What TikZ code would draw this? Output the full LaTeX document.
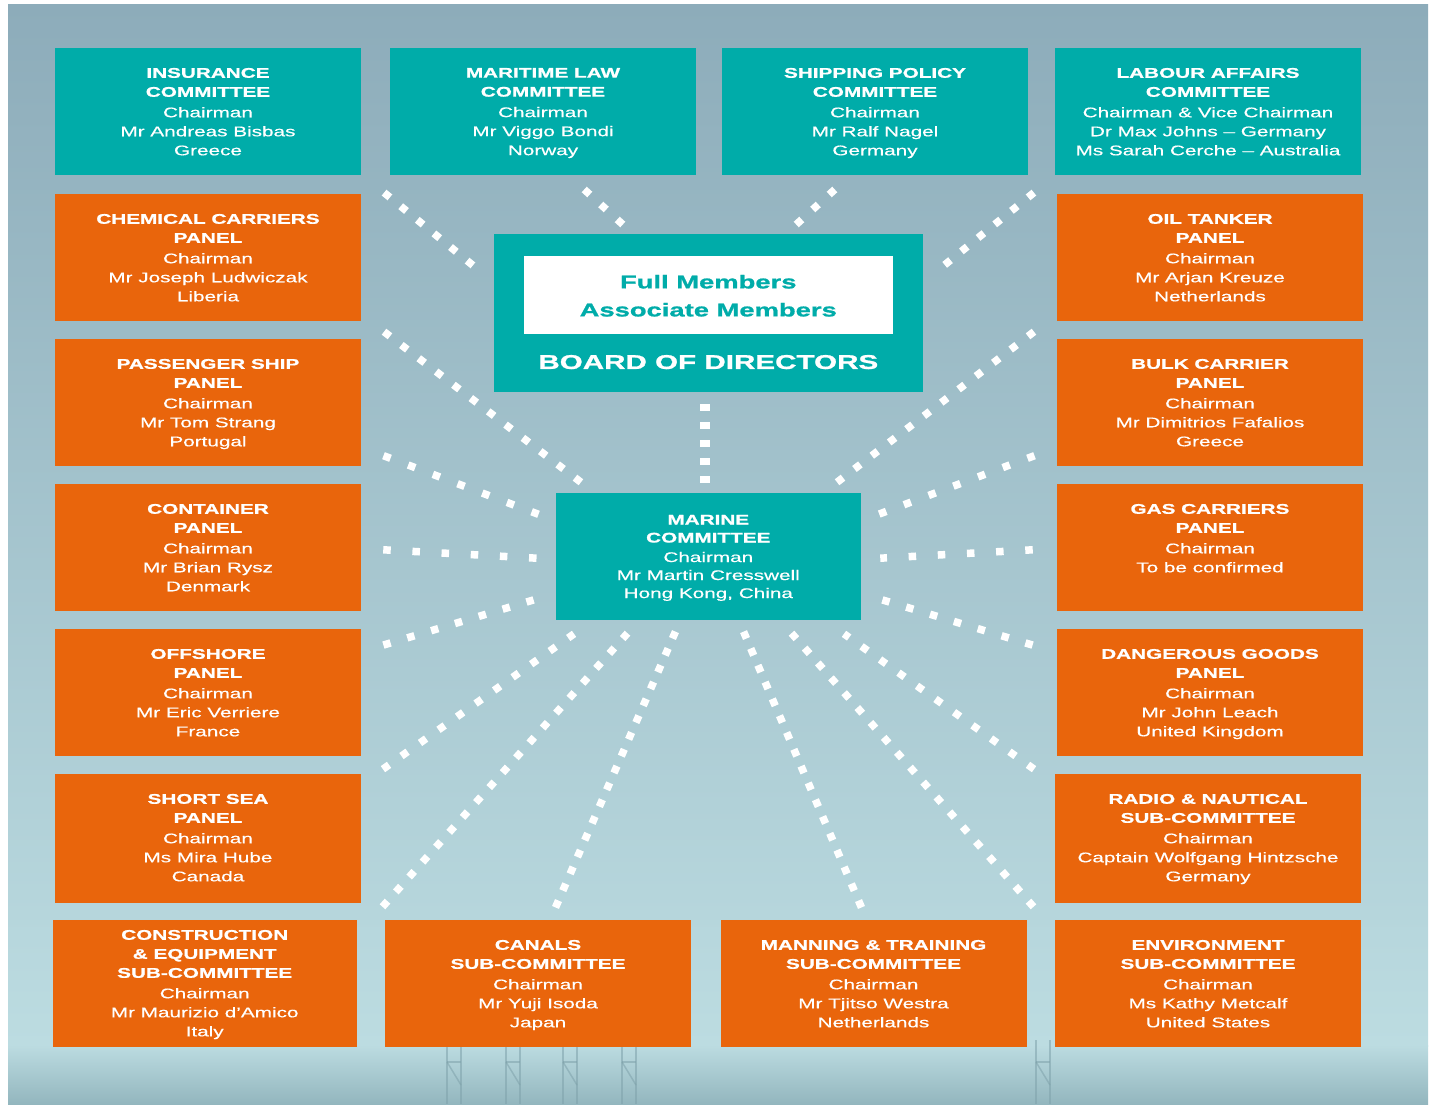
\documentclass[tikz,border=0pt]{standalone}
\usepackage{fontspec}
\newfontfamily\wf[FakeStretch=1.48, UprightFeatures={FakeBold=0.4}, BoldFeatures={FakeBold=1.0}]{Liberation Sans}
\usetikzlibrary{calc}
\definecolor{tealc}{HTML}{00ACA9}
\definecolor{orng}{HTML}{E9650C}
\definecolor{bgtop}{HTML}{8DACBA}
\definecolor{bgmid}{HTML}{A2C3CD}
\definecolor{bgbot}{HTML}{BCDCE1}
\definecolor{bgdark}{HTML}{93B6BE}
\definecolor{crane}{HTML}{7FA2AB}
\newcommand\ttl[1]{\textbf{#1}}
\begin{document}
\begin{tikzpicture}[x=1pt,y=-1pt,
  box/.style={rectangle, inner sep=0pt, minimum width=306pt, minimum height=127pt},
  tbox/.style={box, fill=tealc},
  obox/.style={box, fill=orng},
  txt/.style={anchor=north, inner sep=0pt, align=center, text=white,
    font=\wf\fontsize{14}{19}\selectfont},
  dotd/.style={draw=white, line width=7.5pt, dash pattern=on 7.5pt off #1,
    shorten <=-3.75pt, shorten >=-3.75pt},
  dotv/.style={draw=white, line width=10pt, dash pattern=on 7pt off 11pt},
  cranel/.style={draw=crane, line width=2.5pt, opacity=0.55}]
\useasboundingbox (0,0) rectangle (1430,1107);
% background
\fill[white] (0,0) rectangle (1430,1107);
\shade[top color=bgtop, middle color=bgmid, bottom color=bgbot] (8,5) rectangle (1428,1046);
\shade[top color=bgbot, bottom color=bgdark] (8,1045) rectangle (1428,1104);
\foreach \cx in {447,506,563,622,1036}{
  \draw[cranel] (\cx,1040) -- (\cx,1104);
  \draw[cranel] (\cx+14,1040) -- (\cx+14,1104);
  \draw[cranel, line width=1.5pt] (\cx,1062) -- (\cx+14,1062);
  \draw[cranel, line width=1.5pt] (\cx,1062) -- (\cx+14,1085);
}
% top row
\node[tbox] (ins) at (208,111.5) {};
\node[tbox] (mar) at (543,111.5) {};
\node[tbox] (shp) at (875,111.5) {};
\node[tbox] (lab) at (1208,111.5) {};
% left column
\node[obox] (chem) at (208,257.5) {};
\node[obox] (pass) at (208,402.5) {};
\node[obox] (cont) at (208,547.5) {};
\node[obox] (off) at (208,692.5) {};
\node[obox, minimum height=129pt] (short) at (208,838.5) {};
% right column
\node[obox] (oil) at (1210,257.5) {};
\node[obox] (bulk) at (1210,402.5) {};
\node[obox] (gas) at (1210,547.5) {};
\node[obox] (dang) at (1210,692.5) {};
\node[obox, minimum height=129pt] (radio) at (1208,838.5) {};
% bottom row
\node[obox, minimum width=304pt] (cons) at (204.7,983.5) {};
\node[obox] (can) at (538,983.5) {};
\node[obox] (man) at (873.5,983.5) {};
\node[obox] (env) at (1208,983.5) {};
% centre
\node[rectangle, inner sep=0pt, fill=tealc, minimum width=429.4pt, minimum height=158pt] (board) at (708.3,313) {};
\node[rectangle, inner sep=0pt, fill=white, minimum width=368.5pt, minimum height=78pt] (wbox) at (708.25,295) {};
\node[tbox, minimum width=305.4pt] (marine) at (708.3,556.4) {};
% texts
\node[txt] (ins-t) at ($(ins.north)+(0,20)$) {\ttl{INSURANCE}\\\ttl{COMMITTEE}\\[1.5pt]Chairman\\Mr Andreas Bisbas\\Greece};
\node[txt] (mar-t) at ($(mar.north)+(0,20)$) {\ttl{MARITIME LAW}\\\ttl{COMMITTEE}\\[1.5pt]Chairman\\Mr Viggo Bondi\\Norway};
\node[txt] (shp-t) at ($(shp.north)+(0,20)$) {\ttl{SHIPPING POLICY}\\\ttl{COMMITTEE}\\[1.5pt]Chairman\\Mr Ralf Nagel\\Germany};
\node[txt] (lab-t) at ($(lab.north)+(0,20)$) {\ttl{LABOUR AFFAIRS}\\\ttl{COMMITTEE}\\[1.5pt]Chairman \& Vice Chairman\\Dr Max Johns – Germany\\Ms Sarah Cerche – Australia};
\node[txt] (chem-t) at ($(chem.north)+(0,20)$) {\ttl{CHEMICAL CARRIERS}\\\ttl{PANEL}\\[1.5pt]Chairman\\Mr Joseph Ludwiczak\\Liberia};
\node[txt] (pass-t) at ($(pass.north)+(0,20)$) {\ttl{PASSENGER SHIP}\\\ttl{PANEL}\\[1.5pt]Chairman\\Mr Tom Strang\\Portugal};
\node[txt] (cont-t) at ($(cont.north)+(0,20)$) {\ttl{CONTAINER}\\\ttl{PANEL}\\[1.5pt]Chairman\\Mr Brian Rysz\\Denmark};
\node[txt] (off-t) at ($(off.north)+(0,20)$) {\ttl{OFFSHORE}\\\ttl{PANEL}\\[1.5pt]Chairman\\Mr Eric Verriere\\France};
\node[txt] (short-t) at ($(short.north)+(0,20)$) {\ttl{SHORT SEA}\\\ttl{PANEL}\\[1.5pt]Chairman\\Ms Mira Hube\\Canada};
\node[txt] (oil-t) at ($(oil.north)+(0,20)$) {\ttl{OIL TANKER}\\\ttl{PANEL}\\[1.5pt]Chairman\\Mr Arjan Kreuze\\Netherlands};
\node[txt] (bulk-t) at ($(bulk.north)+(0,20)$) {\ttl{BULK CARRIER}\\\ttl{PANEL}\\[1.5pt]Chairman\\Mr Dimitrios Fafalios\\Greece};
\node[txt] (gas-t) at ($(gas.north)+(0,20)$) {\ttl{GAS CARRIERS}\\\ttl{PANEL}\\[1.5pt]Chairman\\To be confirmed};
\node[txt] (dang-t) at ($(dang.north)+(0,20)$) {\ttl{DANGEROUS GOODS}\\\ttl{PANEL}\\[1.5pt]Chairman\\Mr John Leach\\United Kingdom};
\node[txt] (radio-t) at ($(radio.north)+(0,20)$) {\ttl{RADIO \& NAUTICAL}\\\ttl{SUB-COMMITTEE}\\[1.5pt]Chairman\\Captain Wolfgang Hintzsche\\Germany};
\node[txt] (cons-t) at ($(cons.north)+(0,10)$) {\ttl{CONSTRUCTION}\\\ttl{\& EQUIPMENT}\\\ttl{SUB-COMMITTEE}\\[1.5pt]Chairman\\Mr Maurizio d’Amico\\Italy};
\node[txt] (can-t) at ($(can.north)+(0,20)$) {\ttl{CANALS}\\\ttl{SUB-COMMITTEE}\\[1.5pt]Chairman\\Mr Yuji Isoda\\Japan};
\node[txt] (man-t) at ($(man.north)+(0,20)$) {\ttl{MANNING \& TRAINING}\\\ttl{SUB-COMMITTEE}\\[1.5pt]Chairman\\Mr Tjitso Westra\\Netherlands};
\node[txt] (env-t) at ($(env.north)+(0,20)$) {\ttl{ENVIRONMENT}\\\ttl{SUB-COMMITTEE}\\[1.5pt]Chairman\\Ms Kathy Metcalf\\United States};
\node[txt, font=\wf\fontsize{14}{18}\selectfont] (marine-t) at ($(marine.north)+(0,22)$) {\ttl{MARINE}\\\ttl{COMMITTEE}\\[1.5pt]Chairman\\Mr Martin Cresswell\\Hong Kong, China};
\node[txt, text=tealc, font=\wf\bfseries\fontsize{18.5}{28}\selectfont] (wbox-t) at ($(wbox.north)+(0,19)$) {Full Members\\Associate Members};
\node[txt, font=\wf\bfseries\fontsize{20}{24}\selectfont] (board-t) at ($(board.north)+(0,121)$) {BOARD OF DIRECTORS};
% connector end points
\coordinate (t1a) at (387,195);  \coordinate (t1b) at (470,263);
\coordinate (t2a) at (587,192);  \coordinate (t2b) at (620,222);
\coordinate (t3a) at (832,192);  \coordinate (t3b) at (799,222);
\coordinate (t4a) at (1031,195); \coordinate (t4b) at (947,263);
\coordinate (l1a) at (387,334);  \coordinate (l1b) at (578,480);
\coordinate (r1a) at (1031,334); \coordinate (r1b) at (840,480);
\coordinate (l2a) at (387,457);  \coordinate (l2b) at (535,513);
\coordinate (r2a) at (1031,457); \coordinate (r2b) at (882,513);
\coordinate (l3a) at (387,550);  \coordinate (l3b) at (533,558);
\coordinate (r3a) at (1029,550); \coordinate (r3b) at (884,558);
\coordinate (l4a) at (387,644);  \coordinate (l4b) at (530,601);
\coordinate (r4a) at (1029,644); \coordinate (r4b) at (886,601);
\coordinate (l5a) at (386,767);  \coordinate (l5b) at (571,636);
\coordinate (r5a) at (1031,767); \coordinate (r5b) at (847,636);
\coordinate (l6a) at (385,904);  \coordinate (l6b) at (625,636);
\coordinate (r6a) at (1031,904); \coordinate (r6b) at (794,636);
\coordinate (l7a) at (557,904);  \coordinate (l7b) at (674,635);
\coordinate (r7a) at (860,904);  \coordinate (r7b) at (745,635);
\coordinate (va) at (705,404);   \coordinate (vb) at (705,483);
% dotted connectors
\draw[dotd=13.96pt] (t1a) -- (t1b);
\draw[dotd=14.8pt] (t2a) -- (t2b);
\draw[dotd=14.8pt] (t3a) -- (t3b);
\draw[dotd=13.96pt] (t4a) -- (t4b);
\draw[dotd=14.35pt] (l1a) -- (l1b);
\draw[dotd=14.35pt] (r1a) -- (r1b);
\draw[dotd=18.9pt] (l2a) -- (l2b);
\draw[dotd=18.9pt] (r2a) -- (r2b);
\draw[dotd=21.7pt] (l3a) -- (l3b);
\draw[dotd=21.7pt] (r3a) -- (r3b);
\draw[dotd=17.4pt] (l4a) -- (l4b);
\draw[dotd=17.4pt] (r4a) -- (r4b);
\draw[dotd=15.2pt] (l5a) -- (l5b);
\draw[dotd=15.2pt] (r5a) -- (r5b);
\draw[dotd=12.5pt] (l6a) -- (l6b);
\draw[dotd=12.38pt] (r6a) -- (r6b);
\draw[dotd=10.83pt] (l7a) -- (l7b);
\draw[dotd=10.78pt] (r7a) -- (r7b);
\draw[dotv] (va) -- (vb);
\end{tikzpicture}
\end{document}
